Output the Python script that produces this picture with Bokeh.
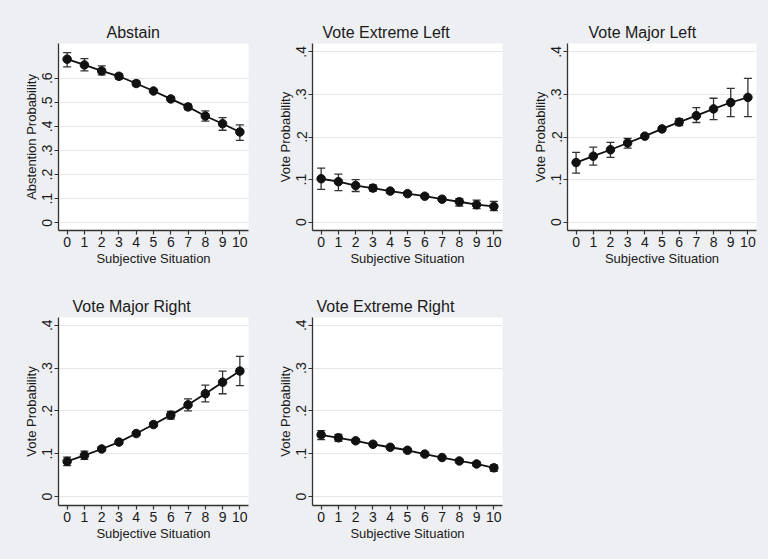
from bokeh.plotting import figure
from bokeh.layouts import column, row
from bokeh.models import Range1d, FixedTicker, ColumnDataSource, Whisker, TeeHead
from bokeh.embed import file_html
from bokeh.resources import INLINE

# ---------------- data ----------------
situation = list(range(11))
x_tick_labels = [str(i) for i in situation]

abstain = [0.679, 0.655, 0.630, 0.608, 0.578, 0.547, 0.514, 0.481, 0.443, 0.411, 0.377]
abstain_lo = [0.647, 0.630, 0.614, 0.596, 0.568, 0.541, 0.507, 0.470, 0.422, 0.384, 0.342]
abstain_hi = [0.706, 0.681, 0.651, 0.619, 0.589, 0.553, 0.521, 0.492, 0.464, 0.436, 0.406]

ext_left = [0.102, 0.095, 0.086, 0.080, 0.073, 0.067, 0.061, 0.054, 0.048, 0.041, 0.037]
ext_left_lo = [0.077, 0.074, 0.072, 0.073, 0.069, 0.063, 0.057, 0.049, 0.038, 0.032, 0.027]
ext_left_hi = [0.127, 0.113, 0.100, 0.0875, 0.077, 0.071, 0.065, 0.059, 0.055, 0.052, 0.049]

maj_left = [0.140, 0.155, 0.170, 0.186, 0.202, 0.219, 0.235, 0.250, 0.266, 0.281, 0.293]
maj_left_lo = [0.115, 0.134, 0.152, 0.174, 0.198, 0.215, 0.227, 0.234, 0.241, 0.248, 0.248]
maj_left_hi = [0.164, 0.176, 0.1875, 0.197, 0.206, 0.223, 0.243, 0.269, 0.291, 0.314, 0.3375]

maj_right = [0.082, 0.096, 0.111, 0.127, 0.147, 0.168, 0.190, 0.214, 0.240, 0.267, 0.293]
maj_right_lo = [0.072, 0.0865, 0.106, 0.123, 0.143, 0.163, 0.181, 0.200, 0.221, 0.240, 0.259]
maj_right_hi = [0.092, 0.106, 0.116, 0.131, 0.151, 0.173, 0.199, 0.228, 0.260, 0.293, 0.327]

ext_right = [0.144, 0.137, 0.130, 0.122, 0.115, 0.108, 0.099, 0.091, 0.083, 0.076, 0.067]
ext_right_lo = [0.133, 0.129, 0.126, 0.118, 0.111, 0.104, 0.095, 0.087, 0.079, 0.071, 0.059]
ext_right_hi = [0.154, 0.145, 0.134, 0.126, 0.119, 0.112, 0.103, 0.095, 0.087, 0.081, 0.074]

abstain_ticks = [0, 0.1, 0.2, 0.3, 0.4, 0.5, 0.6]
abstain_tick_labels = ["0", ".1", ".2", ".3", ".4", ".5", ".6"]
vote_ticks = [0, 0.1, 0.2, 0.3, 0.4]
vote_tick_labels = ["0", ".1", ".2", ".3", ".4"]

# ---------------- style ----------------
BG = "#edeff2"
TXT = "#1a1a1a"
FONT = "Liberation Sans"


def make_panel(title, ylabel, y, lo, hi, yticks, ylabels, yrange,
               width, height, borders, title_offset):
    left, right, top, bottom = borders
    p = figure(width=width, height=height, output_backend="svg",
               toolbar_location=None,
               x_range=Range1d(-0.5, 10.5), y_range=Range1d(*yrange),
               min_border_left=left, min_border_right=right,
               min_border_top=top, min_border_bottom=bottom,
               styles={"background-color": BG})
    p.border_fill_color = BG
    p.background_fill_color = "white"
    p.outline_line_color = None

    p.title.text = title
    p.title.text_font = FONT
    p.title.text_font_size = "16px"
    p.title.text_font_style = "normal"
    p.title.text_color = TXT
    p.title.align = "left"
    p.title.offset = title_offset
    p.title.standoff = 6

    p.xgrid.visible = False
    p.ygrid.grid_line_color = "#e4e6e9"
    p.ygrid.grid_line_width = 1

    p.xaxis.ticker = FixedTicker(ticks=situation)
    p.xaxis.major_label_overrides = {i: s for i, s in zip(situation, x_tick_labels)}
    p.yaxis.ticker = FixedTicker(ticks=yticks)
    p.yaxis.major_label_overrides = {t: s for t, s in zip(yticks, ylabels)}
    p.yaxis.major_label_orientation = "vertical"
    p.xaxis.axis_label = "Subjective Situation"
    p.yaxis.axis_label = ylabel

    for ax in (p.xaxis[0], p.yaxis[0]):
        ax.axis_line_color = "#333333"
        ax.axis_line_width = 1.3
        ax.major_tick_line_color = "#333333"
        ax.major_tick_line_width = 1.2
        ax.major_tick_out = 4
        ax.major_tick_in = 0
        ax.minor_tick_line_color = None
        ax.major_label_text_font = FONT
        ax.major_label_text_font_size = "14px"
        ax.major_label_text_color = TXT
        ax.major_label_standoff = 2
        ax.axis_label_text_font = FONT
        ax.axis_label_text_font_size = "13px"
        ax.axis_label_text_font_style = "normal"
        ax.axis_label_text_color = TXT
        ax.axis_label_standoff = 1

    src = ColumnDataSource(dict(x=situation, y=y, lo=lo, hi=hi))
    w = Whisker(source=src, base="x", upper="hi", lower="lo",
                line_color="#333333", line_width=1.3,
                upper_head=TeeHead(size=8, line_color="#333333", line_width=1.3),
                lower_head=TeeHead(size=8, line_color="#333333", line_width=1.3))
    p.add_layout(w)
    p.line("x", "y", source=src, line_color="#111111", line_width=1.8)
    p.scatter("x", "y", source=src, size=8.5, fill_color="#111111", line_color="#111111")
    return p


V_RANGE0 = (-0.0195, 0.4195)
V_RANGE1 = (-0.021, 0.418)

p1 = make_panel("Abstain", "Abstention Probability", abstain, abstain_lo, abstain_hi,
                abstain_ticks, abstain_tick_labels, (-0.032, 0.744),
                262, 282, (58, 14, 43, 52), 48)
p2 = make_panel("Vote Extreme Left", "Vote Probability", ext_left, ext_left_lo, ext_left_hi,
                vote_ticks, vote_tick_labels, V_RANGE0,
                254, 282, (50, 14, 43, 52), 10)
p3 = make_panel("Vote Major Left", "Vote Probability", maj_left, maj_left_lo, maj_left_hi,
                vote_ticks, vote_tick_labels, V_RANGE0,
                252, 282, (51, 12, 43, 52), 21)
p4 = make_panel("Vote Major Right", "Vote Probability", maj_right, maj_right_lo, maj_right_hi,
                vote_ticks, vote_tick_labels, V_RANGE1,
                262, 277, (58, 14, 35, 54), 14)
p5 = make_panel("Vote Extreme Right", "Vote Probability", ext_right, ext_right_lo, ext_right_hi,
                vote_ticks, vote_tick_labels, V_RANGE1,
                254, 277, (50, 14, 35, 54), 4)

p6 = figure(width=252, height=277, output_backend="svg", toolbar_location=None,
            styles={"background-color": BG})
p6.axis.visible = False
p6.grid.visible = False
p6.outline_line_color = None
p6.border_fill_color = BG
p6.background_fill_color = BG
p6.min_border = 0

layout = column(row(p1, p2, p3, styles={"background-color": BG}),
                row(p4, p5, p6, styles={"background-color": BG}),
                styles={"background-color": BG})

open("out.html", "w").write(file_html(layout, INLINE))
